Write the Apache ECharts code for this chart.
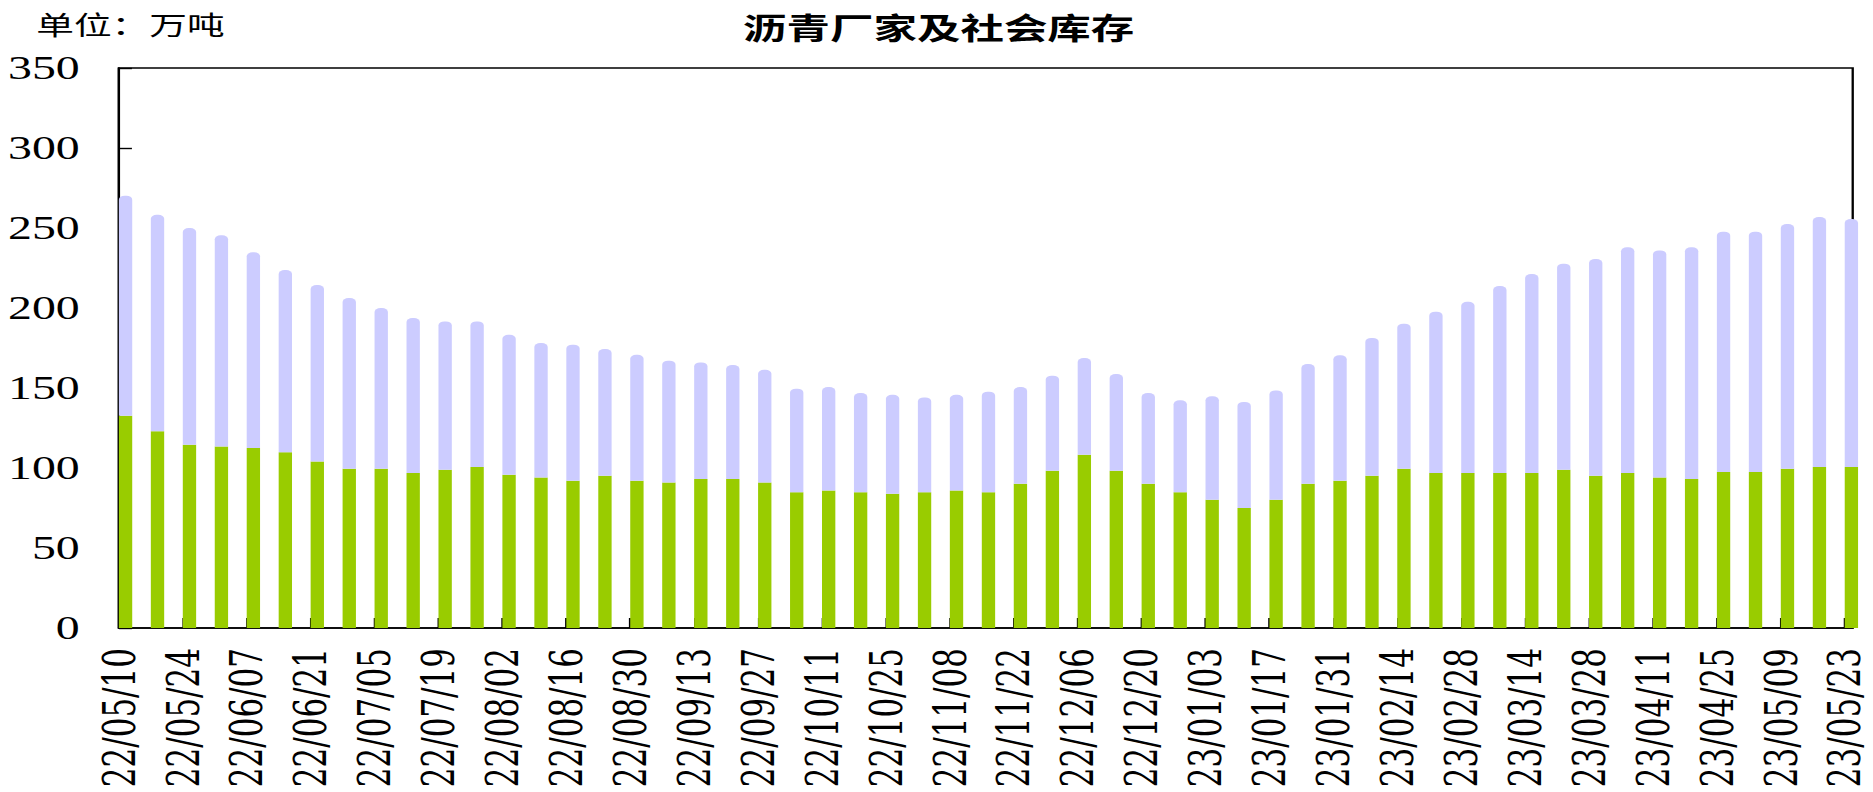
<!DOCTYPE html>
<html>
<head>
<meta charset="utf-8">
<script src="https://cdn.jsdelivr.net/npm/echarts@6/dist/echarts.min.js"></script>
<style>
html,body{margin:0;padding:0;background:#fff;overflow:hidden;}
#wrap{width:1873px;height:792px;overflow:hidden;position:relative;}
#chart{width:1292px;height:792px;transform:scaleX(1.4497);transform-origin:0 0;}
</style>
</head>
<body>
<div id="wrap"><div id="chart"></div></div>
<script>
const dates = ['22/05/10','22/05/17','22/05/24','22/05/31','22/06/07','22/06/14','22/06/21','22/06/28','22/07/05','22/07/12','22/07/19','22/07/26','22/08/02','22/08/09','22/08/16','22/08/23','22/08/30','22/09/06','22/09/13','22/09/20','22/09/27','22/10/04','22/10/11','22/10/18','22/10/25','22/11/01','22/11/08','22/11/15','22/11/22','22/11/29','22/12/06','22/12/13','22/12/20','22/12/27','23/01/03','23/01/10','23/01/17','23/01/24','23/01/31','23/02/07','23/02/14','23/02/21','23/02/28','23/03/07','23/03/14','23/03/21','23/03/28','23/04/04','23/04/11','23/04/18','23/04/25','23/05/02','23/05/09','23/05/16','23/05/23'];
const factoryStock = [132.7,122.9,114.6,113.5,112.5,109.8,104.1,99.6,99.6,96.9,98.9,100.6,95.8,94.1,92.1,95.2,92.1,91.0,93.1,93.1,91.0,84.8,86.0,84.8,83.9,84.8,86.0,84.8,90.2,98.3,108.3,98.3,90.2,84.8,80.2,75.0,80.2,90.2,92.1,95.2,99.6,96.9,96.9,96.9,96.9,98.9,95.2,96.9,94.1,93.1,97.5,97.5,99.6,100.6,100.6];
const socialStock = [137.5,135.4,135.4,131.9,122.3,113.9,110.3,106.6,100.4,96.8,92.7,91.0,87.5,84.0,85.0,79.2,78.7,76.1,72.9,71.3,70.4,64.8,64.6,62.1,61.9,59.3,59.8,62.9,60.4,59.4,60.4,60.4,56.7,57.5,64.6,66.3,68.3,74.8,78.3,86.1,90.6,100.8,107.0,116.8,124.3,128.8,135.4,141.0,141.9,144.8,150.2,150.2,152.9,156.3,155.0];
const yTicks = [0,50,100,150,200,250,300,350];
const titleText = '沥青厂家及社会库存';
const unitText = '单位：万吨';

const chart = echarts.init(document.getElementById('chart'), null, {renderer:'svg'});
const idx = dates.map((d,i)=>i);
chart.setOption({
  animation:false,
  backgroundColor:'#fff',
  title:{text:titleText,left:642.5,top:6,textAlign:'center',
    textStyle:{fontFamily:'Noto Sans CJK SC',fontSize:30,fontWeight:'bold',color:'#000'}},
  graphic:[{type:'text',left:25,top:10,style:{text:unitText,fontFamily:'Noto Sans CJK SC',fontSize:26,fill:'#000'}}],
  grid:{left:82,right:14,top:68,bottom:164,show:true,borderColor:'#000',borderWidth:1.6,backgroundColor:'transparent'},
  xAxis:{type:'value',min:0,max:54.25,interval:2,
    axisLine:{show:true,lineStyle:{color:'#000',width:1.6}},
    axisTick:{show:true,inside:true,length:10,lineStyle:{color:'#000',width:1.4}},
    splitLine:{show:false},
    axisLabel:{rotate:90,margin:20,showMaxLabel:false,color:'#000',fontFamily:'DejaVu Serif',fontSize:31,
      formatter:v=>(Number.isInteger(v)&&dates[v])?dates[v]:''}},
  yAxis:{type:'value',min:0,max:350,interval:50,
    axisLine:{show:true,lineStyle:{color:'#000',width:1.6}},
    axisTick:{show:true,inside:true,length:9,lineStyle:{color:'#000',width:1.4}},
    splitLine:{show:false},
    axisLabel:{margin:27,color:'#000',fontFamily:'Liberation Serif',fontSize:33,
      formatter:v=>yTicks.includes(v)?String(v):''}},
  series:[
    {name:'offset',type:'bar',barWidth:9.2,barGap:'0%',silent:true,clip:true,
      itemStyle:{color:'rgba(0,0,0,0)'},data:idx.map(i=>[i,0])},
    {name:'厂家库存',type:'bar',stack:'inv',barWidth:9.2,barGap:'0%',clip:true,
      encode:{x:1,y:0},
      itemStyle:{color:'#99CC00'},data:idx.map(i=>[factoryStock[i],i])},
    {name:'社会库存',type:'bar',stack:'inv',barWidth:9.2,barGap:'0%',clip:true,
      encode:{x:1,y:0},
      itemStyle:{color:'#CCCCFF',borderRadius:[4,4,0,0]},data:idx.map(i=>[socialStock[i],i])}
  ]
});
</script>
</body>
</html>
